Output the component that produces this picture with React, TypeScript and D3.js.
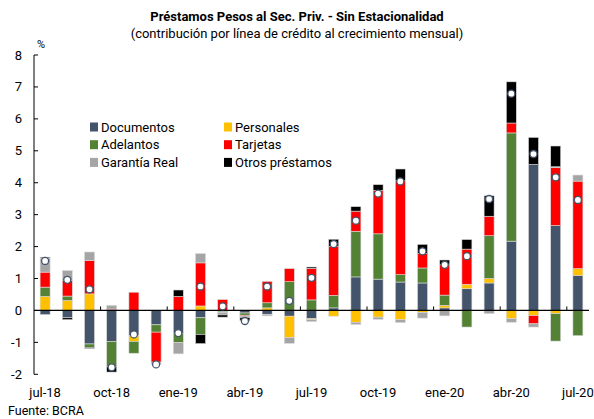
import React from "react";
import * as d3 from "d3";

const months = ["jul-18","ago-18","sep-18","oct-18","nov-18","dic-18","ene-19","feb-19","mar-19","abr-19","may-19","jun-19","jul-19","ago-19","sep-19","oct-19","nov-19","dic-19","ene-20","feb-20","mar-20","abr-20","may-20","jun-20","jul-20"];
const tickLabels = ["jul-18","oct-18","ene-19","abr-19","jul-19","oct-19","ene-20","abr-20","jul-20"];

const documentos = [-0.13,-0.23,-1.05,-0.97,-0.78,-0.45,-0.73,-0.23,-0.03,-0.08,-0.12,-0.18,-0.26,0.08,1.05,0.98,0.89,0.86,0.08,0.68,0.86,2.17,4.57,2.66,1.10];
const personales = [0.44,0.31,0.52,0,-0.19,0,0,0.14,0,0,0.08,-0.67,-0.03,-0.18,-0.37,-0.21,-0.29,-0.06,0.08,0.14,0.14,-0.26,-0.16,-0.10,0.21];
const adelantos = [0.29,0.14,-0.11,-0.80,-0.37,-0.23,-0.27,-0.52,-0.03,-0.07,0.16,0.90,0.33,0.39,1.43,1.42,0.23,0.47,0.32,-0.52,1.34,3.39,0,-0.86,-0.79];
const tarjetas = [0.47,0.49,1.05,0.04,0.57,-0.94,0.44,1.35,0.34,-0.03,0.67,0.41,0.99,1.54,0.63,1.36,2.94,0.45,0.95,1.10,0.61,0.31,-0.26,1.81,2.74];
const garantiaReal = [0.44,0.31,0.26,0.12,0,-0.07,-0.36,0.29,-0.08,-0.04,-0.05,-0.18,-0.06,0,-0.07,-0.07,-0.09,-0.18,-0.17,0,-0.10,-0.11,-0.10,0.03,0.19];
const otrosPrestamos = [0.03,-0.06,-0.03,-0.16,0,0,0.20,-0.29,-0.07,-0.10,0,0,0.04,0.22,0.14,0.18,0.37,0.29,0.15,0.30,0.64,1.29,0.85,0.65,0];
const total = [1.55,0.96,0.66,-1.78,-0.75,-1.69,-0.71,0.75,0.13,-0.33,0.75,0.30,1.02,2.08,2.81,3.66,4.04,1.85,1.43,1.70,3.49,6.79,4.90,4.17,3.46];
const yTicks = [-2,-1,0,1,2,3,4,5,6,7,8];

const seriesNames = ["Documentos","Personales","Adelantos","Tarjetas","Garantía Real","Otros préstamos"];
const seriesValues = [documentos, personales, adelantos, tarjetas, garantiaReal, otrosPrestamos];
const colors = ["#44546A","#FFC000","#548235","#FF0000","#A5A5A5","#000000"];

const FONT = "Roboto, 'Noto Sans', sans-serif";

export default function App() {
  const W = 594, H = 419;
  const x0 = 34, x1 = 589;
  const x = d3.scaleBand<string>().domain(months).range([x0, x1]).paddingInner(0.55).paddingOuter(0.275);
  const y = d3.scaleLinear().domain([-2, 8]).range([374.3, 55]);

  const rows = months.map((m, i) => {
    const r: any = { month: m };
    seriesNames.forEach((s, j) => (r[s] = seriesValues[j][i]));
    return r;
  });
  const stack = d3.stack<any>().keys(seriesNames).offset(d3.stackOffsetDiverging).order(d3.stackOrderNone);
  const stacked = stack(rows);

  const step = x.step();
  const bw = x.bandwidth();

  return (
    <svg width={W} height={H} style={{ position: "absolute", left: 0, top: 0, background: "#fff" }} fontFamily={FONT}>
      <rect x={0} y={0} width={W} height={H} fill="#fff" />
      <text x={297} y={21} textAnchor="middle" fontSize={13} fontWeight="bold" fill="#000">Préstamos Pesos al Sec. Priv. - Sin Estacionalidad</text>
      <text x={297} y={38} textAnchor="middle" fontSize={13} fill="#000">(contribución por línea de crédito al crecimiento mensual)</text>
      <text x={37} y={48} fontSize={11} fill="#000">%</text>

      {/* y axis */}
      <line x1={x0} x2={x0} y1={y(8)} y2={y(-2)} stroke="#000" strokeWidth={1} />
      {yTicks.map((t) => (
        <g key={t}>
          <line x1={x0} x2={x0 + 4} y1={y(t)} y2={y(t)} stroke="#000" />
          <text x={22} y={y(t)} dy="0.35em" textAnchor="end" fontSize={13} fill="#000">{t}</text>
        </g>
      ))}

      {/* bars */}
      {stacked.map((s, j) => (
        <g key={s.key} fill={colors[j]}>
          {s.map((d, i) => {
            const h = Math.abs(y(d[0]) - y(d[1]));
            if (h < 0.01) return null;
            return (
              <rect key={i} x={x(months[i])} y={Math.min(y(d[0]), y(d[1]))} width={bw} height={h} stroke="#d9d9d9" strokeWidth={0.6} />
            );
          })}
        </g>
      ))}

      {/* zero line */}
      <line x1={x0} x2={x1} y1={y(0)} y2={y(0)} stroke="#000" strokeWidth={1.2} />
      {d3.range(1, 9).map((k) => (
        <line key={k} x1={x0 + 3 * k * step} x2={x0 + 3 * k * step} y1={y(0)} y2={y(0) - 4} stroke="#000" />
      ))}

      {/* total dots */}
      {total.map((v, i) => (
        <circle key={i} cx={(x(months[i]) as number) + bw / 2} cy={y(v)} r={3.5} fill="#fff" stroke="#44546A" strokeWidth={1.3} />
      ))}

      {/* x labels */}
      {tickLabels.map((l) => (
        <text key={l} x={(x(l) as number) + bw / 2} y={397} textAnchor="middle" fontSize={13} fill="#000">{l}</text>
      ))}

      <text x={8} y={415} fontSize={12.5} fill="#000">Fuente: BCRA</text>

      {/* legend */}
      {seriesNames.map((s, j) => {
        const col = j % 2, row = Math.floor(j / 2);
        const lx = col === 0 ? 90 : 224;
        const ly = 127 + row * 17.7;
        return (
          <g key={s}>
            <rect x={lx} y={ly - 4.5} width={8} height={9} fill={colors[j]} />
            <text x={lx + 11} y={ly} dy="0.35em" fontSize={13} fill="#000">{s}</text>
          </g>
        );
      })}
    </svg>
  );
}
